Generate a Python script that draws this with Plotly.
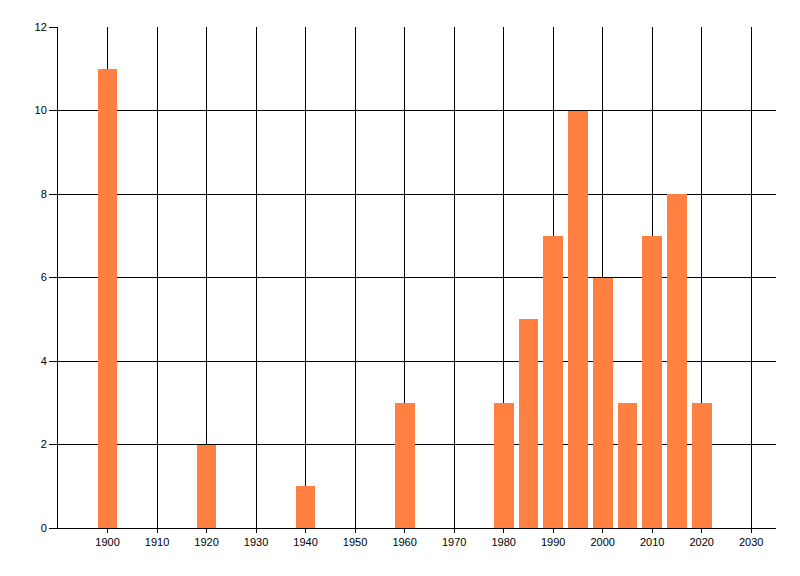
import plotly.graph_objects as go

years = [1900, 1920, 1940, 1960, 1980, 1985, 1990, 1995, 2000, 2005, 2010, 2015, 2020]
counts = [11, 2, 1, 3, 3, 5, 7, 10, 6, 3, 7, 8, 3]
x_ticks = list(range(1900, 2031, 10))
y_ticks = list(range(0, 13, 2))

fig = go.Figure()
fig.add_trace(go.Bar(x=years, y=counts, width=4, marker=dict(color="#FF8040", line=dict(width=0))))

# page body has an 8px margin, so the figure is sized/offset to compensate
fig.update_layout(
    width=792, height=568,
    margin=dict(l=50, r=24, t=19, b=48),
    paper_bgcolor="white", plot_bgcolor="white",
    font=dict(family="Liberation Sans", size=11, color="black"),
    showlegend=False,
    bargap=0,
)
fig.update_xaxes(
    range=[1890, 2035], tickvals=x_ticks, ticktext=[str(v) for v in x_ticks],
    showgrid=True, gridcolor="black", gridwidth=1,
    showline=True, linecolor="black", linewidth=1,
    ticks="outside", ticklen=4, tickcolor="black", zeroline=False,
)
fig.update_yaxes(
    range=[0, 12], tickvals=y_ticks,
    showgrid=True, gridcolor="black", gridwidth=1,
    showline=True, linecolor="black", linewidth=1,
    ticks="outside", ticklen=8, tickcolor="black", zeroline=False,
)
fig.write_html("out.html")
